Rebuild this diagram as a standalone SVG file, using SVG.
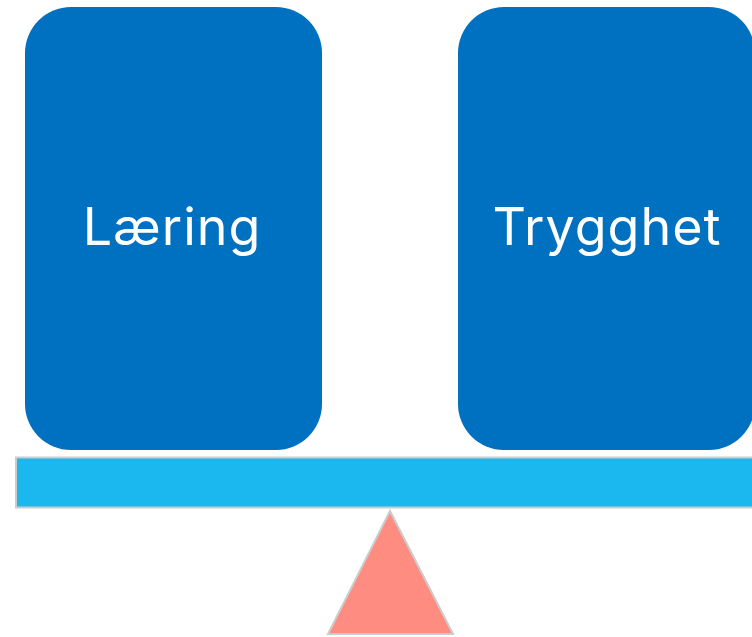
<svg xmlns="http://www.w3.org/2000/svg" width="752" height="637" viewBox="0 0 752 637">
<style>
.box{fill:#0070C0;}
.lbl{font-family:Inter,"Noto Sans","DejaVu Sans",sans-serif;font-size:52px;letter-spacing:1px;fill:#ffffff;text-anchor:middle;}
</style>
<rect width="752" height="637" fill="#ffffff"/>
<g id="laering">
<rect class="box" x="25" y="7" width="297" height="443" rx="46" ry="46"/>
<text class="lbl" x="172" y="245">Læring</text>
</g>
<g id="trygghet">
<rect class="box" x="458" y="7" width="297" height="443" rx="46" ry="46"/>
<text class="lbl" x="607" y="245">Trygghet</text>
</g>
<g id="bar">
<rect x="16" y="457.5" width="760" height="50" fill="#1BB7EF" stroke="#CCCCCC" stroke-width="2"/>
</g>
<g id="fulcrum">
<polygon points="390,511 328,634 453,634" fill="#FF8C80" stroke="#CCCCCC" stroke-width="2"/>
</g>
<g id="connectors"></g>
</svg>
